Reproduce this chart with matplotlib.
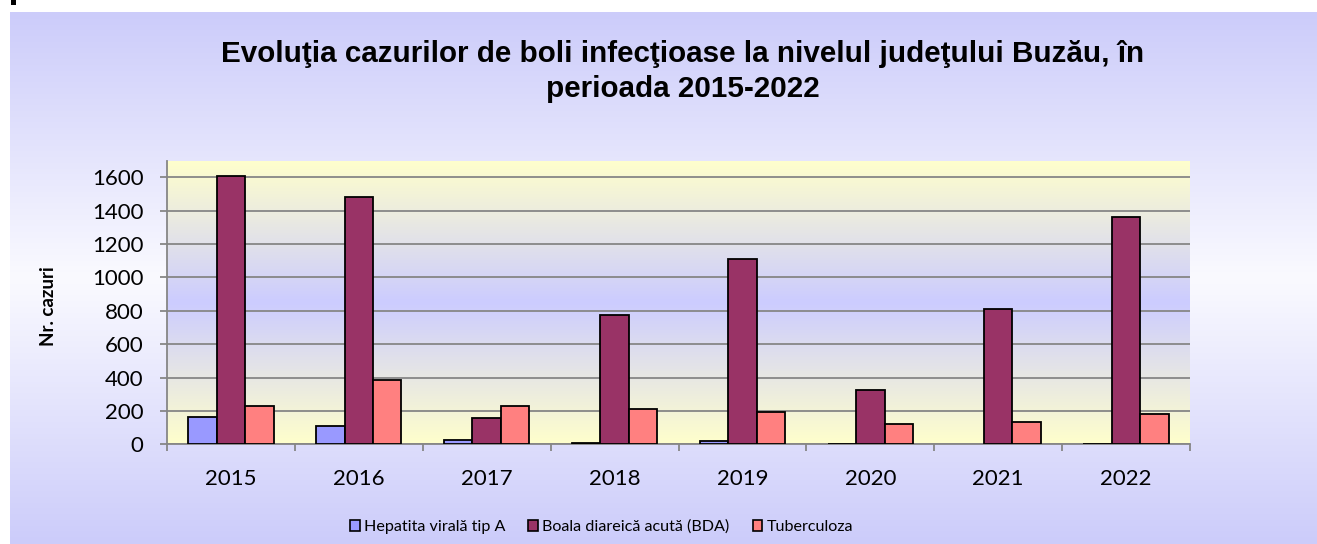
import numpy as np
import matplotlib
matplotlib.use("Agg")
import matplotlib.pyplot as plt
from matplotlib import font_manager
from matplotlib.patches import Patch, Rectangle
from matplotlib.colors import LinearSegmentedColormap

# ---- data -------------------------------------------------------------
years = ["2015", "2016", "2017", "2018", "2019", "2020", "2021", "2022"]
hepatita_a = [166, 112, 28, 8, 22, 2, 0, 3]
bda = [1606, 1482, 156, 774, 1112, 328, 812, 1364]
tuberculoza = [228, 386, 232, 212, 194, 120, 134, 184]

series_names = ["Hepatita virală tip A", "Boala diareică acută (BDA)", "Tuberculoza"]
series_colors = ["#9999FF", "#993366", "#FF8080"]
y_ticks = [0, 200, 400, 600, 800, 1000, 1200, 1400, 1600]
y_max = 1700

title_lines = ["Evoluţia cazurilor de boli infecţioase la nivelul judeţului Buzău, în",
               "perioada 2015-2022"]
y_label = "Nr. cazuri"


def have_font(name):
    try:
        font_manager.findfont(font_manager.FontProperties(family=name),
                              fallback_to_default=False)
        return True
    except ValueError:
        return False


tick_font = "Lato" if have_font("Lato") else "DejaVu Sans"
title_font = "Liberation Sans" if have_font("Liberation Sans") else "DejaVu Sans"
if have_font("Liberation Sans Narrow"):
    legend_font, legend_size, col_space = "Liberation Sans Narrow", 12.7, 1.9
else:
    legend_font, legend_size, col_space = tick_font, 11.6, 1.45

W, H = 1317, 544
fig = plt.figure(figsize=(W / 100, H / 100), dpi=100)
fig.patch.set_facecolor("white")

# ---- chart-area background: lavender -> white -> lavender ------------
bg = fig.add_axes([10 / W, 0, 1 - 10 / W, 532 / H], zorder=-10)
bg_cmap = LinearSegmentedColormap.from_list(
    "bg", [(0.0, "#CCCCFA"), (0.5, "#FAFAFF"), (1.0, "#CCCCFA")])
bg.imshow(np.linspace(0, 1, 256).reshape(-1, 1), cmap=bg_cmap, aspect="auto",
          extent=[0, 1, 0, 1], interpolation="bicubic")
bg.set_axis_off()

fig.patches.append(Rectangle((11 / W, 1 - 5 / H), 5 / W, 5 / H,
                             transform=fig.transFigure, facecolor="black",
                             edgecolor="none"))

# ---- plot area ----------------------------------------------------------
ax = fig.add_axes([167 / W, 1 - 444.3 / H, (1190 - 167) / W, (444.3 - 160.5) / H],
                  zorder=1)
ax.set_xlim(-0.5, len(years) - 0.5)
ax.set_ylim(0, y_max)

pa_cmap = LinearSegmentedColormap.from_list(
    "pa", [(0.0, "#FFFFCC"), (0.5, "#CCCCFF"), (1.0, "#FFFFCC")])
ax.imshow(np.linspace(0, 1, 256).reshape(-1, 1), cmap=pa_cmap, aspect="auto",
          extent=[-0.5, len(years) - 0.5, 0, y_max], interpolation="bicubic",
          zorder=0)

grid_color = "#868686"
ax.set_axisbelow(True)
ax.yaxis.grid(True, color=grid_color, lw=1.3)

x = np.arange(len(years))
bar_w = 1 / 4.5
for i, (vals, col) in enumerate(zip([hepatita_a, bda, tuberculoza], series_colors)):
    bars = ax.bar(x + (i - 1) * bar_w, vals, width=bar_w, color=col,
                  edgecolor="black", linewidth=1.3, zorder=3)
    for b, v in zip(bars, vals):
        if v == 0:
            b.set_linewidth(0)

for side in ("top", "right"):
    ax.spines[side].set_visible(False)
for side in ("left", "bottom"):
    ax.spines[side].set_color(grid_color)
    ax.spines[side].set_linewidth(1.3)

ax.set_yticks(y_ticks)
ax.set_xticks(x)
ax.set_xticklabels(years)
ax.set_xticks(np.arange(-0.5, len(years), 1), minor=True)
ax.tick_params(axis="y", length=5, width=1.3, color=grid_color, pad=12,
               labelsize=16)
ax.tick_params(axis="x", which="major", length=0, pad=18, labelsize=16)
ax.tick_params(axis="x", which="minor", length=5, width=1.3, color=grid_color)
for lab in ax.get_xticklabels() + ax.get_yticklabels():
    lab.set_fontfamily(tick_font)

# ---- texts --------------------------------------------------------------
fig.text(683 / W, 1 - 62 / H, title_lines[0], ha="center", va="baseline",
         fontsize=21.3, fontweight="bold", family=title_font)
fig.text(683 / W, 1 - 97 / H, title_lines[1], ha="center", va="baseline",
         fontsize=21.3, fontweight="bold", family=title_font)
fig.text(49 / W, 1 - 306 / H, y_label, rotation=90, ha="center", va="center",
         fontsize=13.5, fontweight="bold", family=tick_font)

handles = [Patch(facecolor=c, edgecolor="black", linewidth=1.2) for c in series_colors]
fig.legend(handles, series_names, loc="center left",
           bbox_to_anchor=(350 / W, 1 - 527 / H), ncol=3, frameon=False,
           handlelength=0.6, handleheight=0.6, handletextpad=0.25,
           columnspacing=col_space, borderaxespad=0, borderpad=0,
           prop=font_manager.FontProperties(family=legend_font, size=legend_size))

fig.savefig("out.png", dpi=100)
